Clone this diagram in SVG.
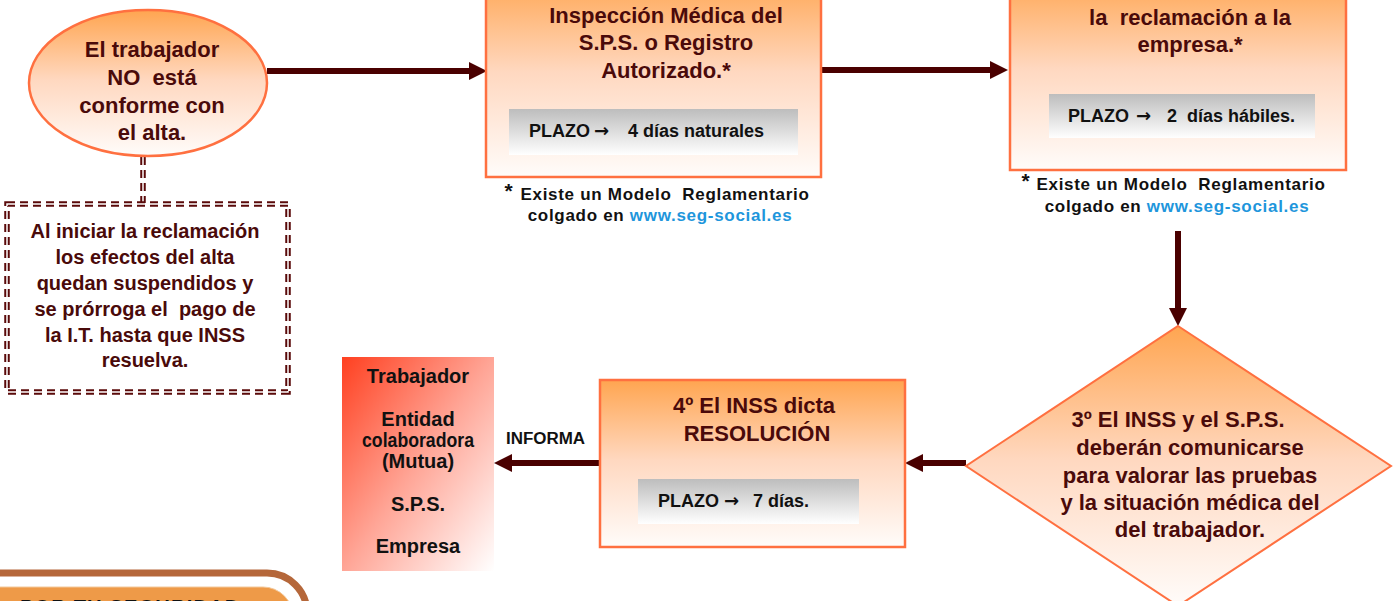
<svg xmlns="http://www.w3.org/2000/svg" width="1395" height="601" viewBox="0 0 1395 601">
<defs>
<linearGradient id="gOr" x1="0" y1="0" x2="0" y2="1">
<stop offset="0" stop-color="#FFA550"/>
<stop offset="0.48" stop-color="#FFD8C0"/>
<stop offset="1" stop-color="#FFFCFA"/>
</linearGradient>
<linearGradient id="gGray" x1="0" y1="0" x2="0" y2="1">
<stop offset="0" stop-color="#BDBDBD"/>
<stop offset="1" stop-color="#FFFFFF"/>
</linearGradient>
<linearGradient id="gRed" x1="0" y1="0" x2="1" y2="1">
<stop offset="0" stop-color="#FF4020"/>
<stop offset="0.5" stop-color="#FFA596"/>
<stop offset="1" stop-color="#FFFFFF"/>
</linearGradient>
<marker id="ah" markerUnits="userSpaceOnUse" markerWidth="18" markerHeight="18" refX="6" refY="9" orient="auto">
<path d="M0,0 L18,9 L0,18 z" fill="#4A0000"/>
</marker>
<style>
text{white-space:pre}
.box{fill:url(#gOr);stroke:#FF7040;stroke-width:2.5}
.bar{fill:url(#gGray)}
.t{font-family:"Liberation Sans",Arial,sans-serif;font-weight:bold;fill:#4A0A0A;font-size:22px;text-anchor:middle}
.pz{font-family:"Liberation Sans",Arial,sans-serif;font-weight:bold;fill:#111;font-size:18px}
.arr{font-family:"DejaVu Sans",sans-serif;font-weight:bold}
.fn{font-family:"Liberation Sans",Arial,sans-serif;font-weight:bold;fill:#111;font-size:17px;letter-spacing:0.7px;text-anchor:middle}
.lnk{fill:#1E96DC}
.k{font-family:"Liberation Sans",Arial,sans-serif;font-weight:bold;fill:#111;font-size:20px;text-anchor:middle}
.con{stroke:#4A0000;stroke-width:6;fill:none;marker-end:url(#ah)}
.dOut{fill:none;stroke:#5A0A0A;stroke-width:5.5;stroke-dasharray:8 5}
.dIn{fill:none;stroke:#FFFFFF;stroke-width:1.5;stroke-dasharray:8 5}
</style>
</defs>
<rect width="1395" height="601" fill="#FFFFFF"/>

<g id="connectors">
<line class="con" x1="267" y1="71" x2="475" y2="71"/>
<line class="con" x1="821" y1="70" x2="996" y2="70"/>
<line class="con" x1="1178" y1="231" x2="1178" y2="314"/>
<line class="con" x1="966" y1="463" x2="917" y2="463"/>
<line class="con" x1="600" y1="463" x2="506" y2="463"/>
<line class="dOut" x1="143" y1="157" x2="143" y2="203"/>
<line class="dIn" x1="143" y1="157" x2="143" y2="203"/>
<text x="506" y="444" class="pz" textLength="79" lengthAdjust="spacingAndGlyphs" style="font-size:16px">INFORMA</text>
</g>

<g id="n-start">
<ellipse cx="148" cy="83" rx="119" ry="73" fill="url(#gOr)" stroke="#FF7040" stroke-width="2.5"/>
<text class="t"><tspan x="152" y="57">El trabajador</tspan><tspan x="152" y="85">NO  está</tspan><tspan x="152" y="113">conforme con</tspan><tspan x="152" y="140">el alta.</tspan></text>
</g>

<g id="n-note">
<rect class="dOut" x="7" y="204" width="281" height="188"/>
<rect class="dIn" x="7" y="204" width="281" height="188"/>
<text class="t" style="font-size:20px"><tspan x="145" y="238">Al iniciar la reclamación</tspan><tspan x="145" y="264">los efectos del alta</tspan><tspan x="145" y="290">quedan suspendidos y</tspan><tspan x="145" y="316">se prórroga el  pago de</tspan><tspan x="145" y="342">la I.T. hasta que INSS</tspan><tspan x="145" y="367">resuelva.</tspan></text>
</g>

<g id="n-step1">
<rect class="box" x="486" y="-25" width="335" height="202"/>
<text class="t"><tspan x="666" y="23">Inspección Médica del</tspan><tspan x="666" y="50">S.P.S. o Registro</tspan><tspan x="666" y="78">Autorizado.*</tspan></text>
<rect class="bar" x="509" y="109" width="289" height="46"/>
<text class="pz" y="137"><tspan x="529">PLAZO</tspan><tspan x="594" class="arr">→</tspan><tspan x="628">4 días naturales</tspan></text>
<text class="fn"><tspan x="509" y="198" style="font-size:21px">*</tspan><tspan x="665" y="200">Existe un Modelo  Reglamentario</tspan><tspan x="660" y="221">colgado en <tspan class="lnk">www.seg-social.es</tspan></tspan></text>
</g>

<g id="n-step2">
<rect class="box" x="1010" y="-25" width="336" height="195"/>
<text class="t"><tspan x="1190" y="25">la  reclamación a la</tspan><tspan x="1190" y="52">empresa.*</tspan></text>
<rect class="bar" x="1049" y="94" width="266" height="44"/>
<text class="pz" y="122"><tspan x="1068">PLAZO</tspan><tspan x="1136" class="arr">→</tspan><tspan x="1167">2  días hábiles.</tspan></text>
<text class="fn"><tspan x="1026" y="188" style="font-size:21px">*</tspan><tspan x="1181" y="190">Existe un Modelo  Reglamentario</tspan><tspan x="1177" y="212">colgado en <tspan class="lnk">www.seg-social.es</tspan></tspan></text>
</g>

<g id="n-step3">
<path d="M1178,326 L1391,466 L1178,606 L966,466 Z" fill="url(#gOr)" stroke="#FF7040" stroke-width="2"/>
<text class="t"><tspan x="1178" y="427">3º El INSS y el S.P.S.</tspan><tspan x="1190" y="455">deberán comunicarse</tspan><tspan x="1190" y="483">para valorar las pruebas</tspan><tspan x="1190" y="510">y la situación médica del</tspan><tspan x="1190" y="537">del trabajador.</tspan></text>
</g>

<g id="n-step4">
<rect class="box" x="600" y="380" width="305" height="167"/>
<text class="t"><tspan x="754" y="413">4º El INSS dicta</tspan><tspan x="757" y="441">RESOLUCIÓN</tspan></text>
<rect class="bar" x="638" y="479" width="221" height="45"/>
<text class="pz" y="507"><tspan x="658">PLAZO</tspan><tspan x="724" class="arr">→</tspan><tspan x="753">7 días.</tspan></text>
</g>

<g id="n-recipients">
<rect x="342" y="357" width="152" height="214" fill="url(#gRed)"/>
<text class="k"><tspan x="418" y="383">Trabajador</tspan><tspan x="418" y="426">Entidad</tspan></text>
<text class="k" x="418" y="447" textLength="112" lengthAdjust="spacingAndGlyphs">colaboradora</text>
<text class="k"><tspan x="418" y="468">(Mutua)</tspan><tspan x="418" y="511">S.P.S.</tspan><tspan x="418" y="553">Empresa</tspan></text>
</g>

<g id="n-banner">
<path d="M-10,573 H267 A40,40 0 0 1 307,613 V640" fill="none" stroke="#B5673A" stroke-width="7"/>
<path d="M-10,587 H263 A30,30 0 0 1 293,617 V640 H-10 Z" fill="#EE9A48" stroke="#F3C89A" stroke-width="1"/>
<text x="20" y="614" style="font-family:'Liberation Sans',Arial,sans-serif;font-weight:bold;font-size:20px;letter-spacing:1.2px;fill:#111">POR TU SEGURIDAD</text>
</g>
</svg>
